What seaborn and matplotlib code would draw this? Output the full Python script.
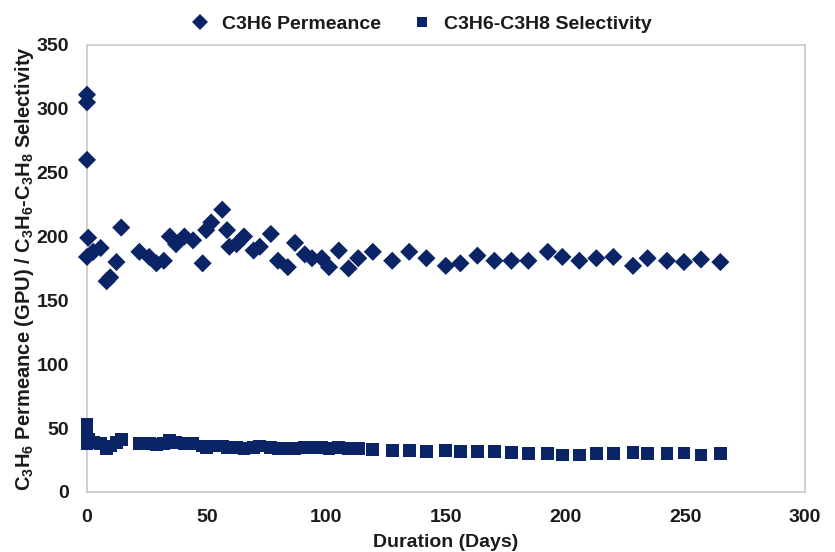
import matplotlib
matplotlib.use("Agg")
import matplotlib.pyplot as plt
import seaborn as sns
import pandas as pd

perm_days = [0, 0, 0, 0.5, 0, 2.6, 5.7, 8.2, 9.7, 12.3, 14.3, 21.9, 26, 29, 32.1, 34.6, 37.2, 40.7,
             44.3, 48.3, 49.8, 51.9, 56.5, 58.5, 59.5, 62.5, 65.6, 69.6, 72.2, 76.8, 79.8, 83.9,
             86.9, 91, 94, 98.1, 101.1, 105.2, 109.3, 113.3, 119.4, 127.5, 134.6, 141.8, 149.9,
             156, 163.1, 170.2, 177.3, 184.4, 192.5, 198.6, 205.7, 212.8, 219.9, 228.1, 234.2,
             242.3, 249.4, 256.5, 264.6]
perm_vals = [311, 305, 260, 199, 184, 188, 191, 165, 168, 180, 207, 188, 184, 179, 181, 200, 194,
             200, 197, 179, 205, 211, 221, 205, 192, 194, 200, 189, 192, 202, 181, 176, 195, 186,
             183, 183, 176, 189, 175, 183, 188, 181, 188, 183, 177, 179, 185, 181, 181, 181, 188,
             184, 181, 183, 184, 177, 183, 181, 180, 182, 180]

sel_days = [0, 0, 0, 0.8, 2.6, 5.7, 8.2, 9.7, 12.3, 14.3, 21.9, 26, 29, 32.1, 34.6, 37.2, 40.7,
            44.3, 48.3, 49.8, 51.9, 56.5, 58.5, 59.5, 62.5, 65.6, 69.6, 72.2, 76.8, 79.8, 83.9,
            86.9, 91, 94, 98.1, 101.1, 105.2, 109.3, 113.3, 119.4, 127.5, 134.6, 141.8, 149.9,
            156, 163.1, 170.2, 177.3, 184.4, 192.5, 198.6, 205.7, 212.8, 219.9, 228.1, 234.2,
            242.3, 249.4, 256.5, 264.6]
sel_vals = [53, 47, 38, 41, 39, 38, 34, 36, 39, 41, 38, 38, 37, 38, 40, 39, 38, 38, 36, 35, 36,
            36, 35, 35, 35, 34, 35, 36, 35, 34, 34, 34, 35, 35, 35, 34, 35, 34, 34, 33, 32.5,
            32.5, 31.5, 32.5, 31.5, 31.5, 31.5, 31, 30, 30, 29, 29, 30, 30, 31, 30, 30, 30.5,
            29, 30]

series_names = ["C3H6 Permeance", "C3H6-C3H8 Selectivity"]
x_ticks = [0, 50, 100, 150, 200, 250, 300]
y_ticks = [0, 50, 100, 150, 200, 250, 300, 350]

sns.set_style("white")
plt.rcParams["font.family"] = ["Liberation Sans", "DejaVu Sans"]
plt.rcParams["font.weight"] = "bold"
plt.rcParams["mathtext.default"] = "regular"

color = "#0a2466"
text_color = "#1a1a1a"

df = pd.concat([
    pd.DataFrame({"day": perm_days, "val": perm_vals, "series": series_names[0]}),
    pd.DataFrame({"day": sel_days, "val": sel_vals, "series": series_names[1]}),
])

fig = plt.figure(figsize=(8.35, 5.52), dpi=100)
ax = fig.add_axes([0.1042, 0.1087, 0.860, 0.810])

sns.scatterplot(data=df, x="day", y="val", hue="series", style="series",
                markers={series_names[0]: "D", series_names[1]: "s"},
                palette={series_names[0]: color, series_names[1]: color},
                s=85, linewidth=0, ax=ax, legend=True, clip_on=False, zorder=3)

ax.set_xlim(0, 300)
ax.set_ylim(0, 350)
ax.set_xticks(x_ticks)
ax.set_yticks(y_ticks)
ax.tick_params(axis="x", length=0, labelsize=14, pad=12)
ax.tick_params(axis="y", length=0, labelsize=14, pad=13)
for lab in ax.get_xticklabels() + ax.get_yticklabels():
    lab.set_fontweight("bold")
    lab.set_color(text_color)

for s in ["top", "right", "left", "bottom"]:
    ax.spines[s].set_color("#c8c8c8")
    ax.spines[s].set_linewidth(1.2)

ax.set_xlabel("Duration (Days)", fontsize=14, fontweight="bold", color=text_color, labelpad=6)
ax.set_ylabel("C$_3$H$_6$ Permeance (GPU) / C$_3$H$_6$-C$_3$H$_8$ Selectivity",
              fontsize=14.5, fontweight="bold", color=text_color, labelpad=0)

handles, labels = ax.get_legend_handles_labels()
leg = ax.legend(handles, labels, loc="lower center", bbox_to_anchor=(0.465, 1.0), ncol=2,
                frameon=False, fontsize=14, markerscale=0.85, handlelength=1.0,
                handletextpad=0.6, columnspacing=1.65, borderaxespad=0.2)
for t in leg.get_texts():
    t.set_fontweight("bold")
    t.set_color(text_color)

fig.savefig("out.png", dpi=100)
